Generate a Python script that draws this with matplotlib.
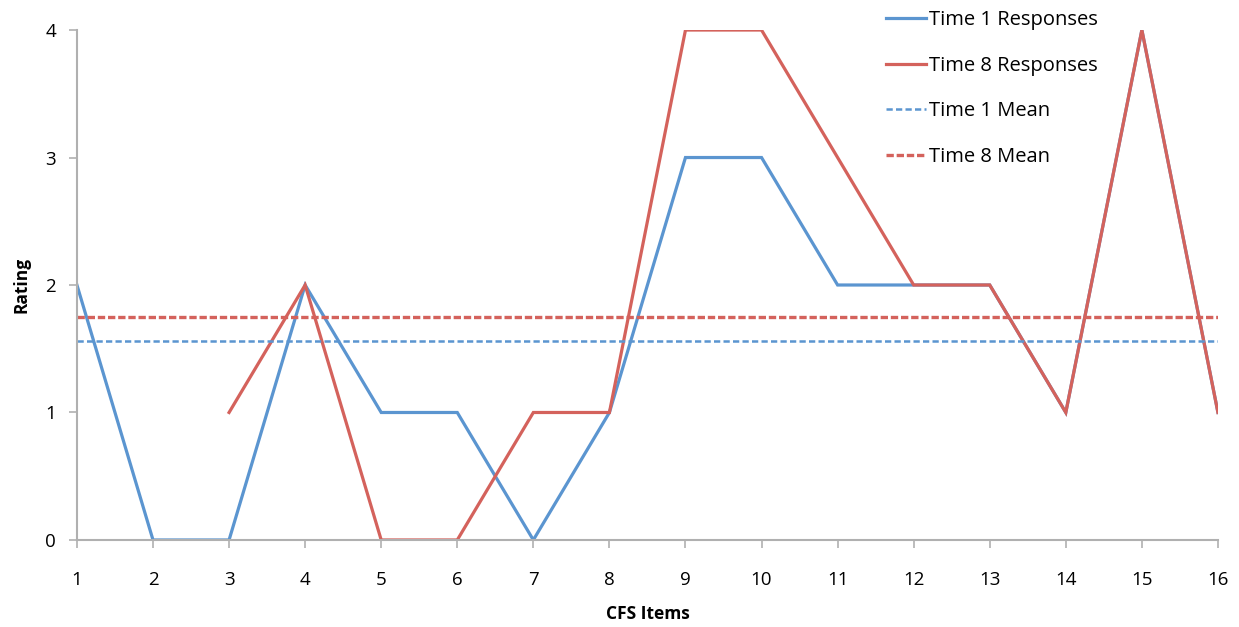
import numpy as np
import matplotlib
matplotlib.use('Agg')
import matplotlib.pyplot as plt

items = list(range(1, 17))
time1 = [2, 0, 0, 2, 1, 1, 0, 1, 3, 3, 2, 2, 2, 1, 4, 1]
time8 = [np.nan, np.nan, 1, 2, 0, 0, 1, 1, 4, 4, 3, 2, 2, 1, 4, 1]
time1_mean = 1.5625
time8_mean = 1.75

blue = '#5b95d0'
red = '#d4625c'

plt.rcParams['font.family'] = ['Open Sans', 'DejaVu Sans']

fig = plt.figure(figsize=(12.39, 6.27), dpi=100)
ax = fig.add_axes([0.0621, 0.1388, 0.9209, 0.8133])

l1, = ax.plot(items, time1, color=blue, lw=2.3, label='Time 1 Responses', solid_joinstyle='miter')
l2, = ax.plot(items, time8, color=red, lw=2.3, label='Time 8 Responses', solid_joinstyle='miter')
l3, = ax.plot(items, [time1_mean] * len(items), color=blue, lw=1.8, ls=(0, (2.5, 1.3)), label='Time 1 Mean')
l4, = ax.plot(items, [time8_mean] * len(items), color=red, lw=2.4, ls=(0, (2.2, 0.85)), label='Time 8 Mean')

ax.set_xlim(1, 16)
ax.set_ylim(0, 4)
ax.set_xticks(items)
ax.set_yticks([0, 1, 2, 3, 4])

for s in ['top', 'right']:
    ax.spines[s].set_visible(False)
for s in ['left', 'bottom']:
    ax.spines[s].set_color('#b0b0b0')
    ax.spines[s].set_linewidth(1.5)
ax.tick_params(axis='both', colors='#b0b0b0', length=6, width=1.2, labelsize=13.5,
               labelcolor='black')
ax.tick_params(axis='x', pad=16)
ax.tick_params(axis='y', pad=9)

ax.set_xlabel('CFS Items', fontsize=12.5, fontweight='bold', labelpad=12)
ax.set_ylabel('Rating', fontsize=12.5, fontweight='bold', labelpad=11)

fig.legend(handles=[l1, l2, l3, l4], loc='upper left', bbox_to_anchor=(0.715, 0.984),
           frameon=False, fontsize=14.5, handlelength=2.0, handletextpad=0.15,
           labelspacing=1.27, borderpad=0, borderaxespad=0)

fig.savefig('out.png', dpi=100)
